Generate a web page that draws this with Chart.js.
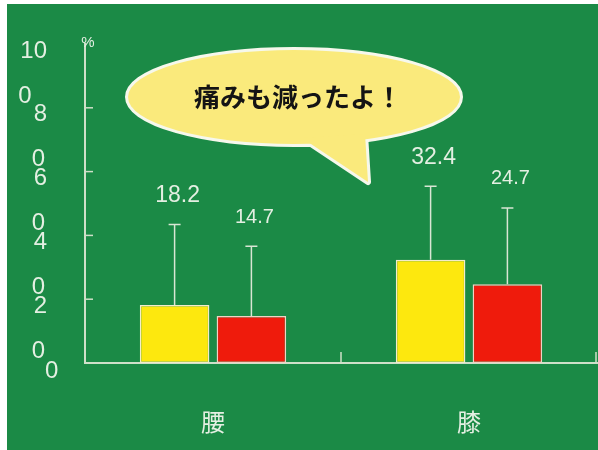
<!DOCTYPE html>
<html lang="ja">
<head>
<meta charset="utf-8">
<title>痛みも減ったよ！</title>
<script src="https://cdn.jsdelivr.net/npm/chart.js@4.4.1/dist/chart.umd.min.js"></script>
<style>
  html, body { margin: 0; padding: 0; background: #ffffff; }
  #wrap { width: 598px; height: 450px; }
</style>
</head>
<body>
<div id="wrap"><canvas id="painChart" width="598" height="450"></canvas></div>
<script>
// values
const categories = ["腰", "膝"];
const yellowValues = [18.2, 32.4];
const redValues = [14.7, 24.7];
const yellowSd = [25.2, 23.0];
const redSd = [21.9, 23.9];
const yTicks = [0, 20, 40, 60, 80, 100];
const unitLabel = "%";
const bubbleText = "痛みも減ったよ！";

const LIGHT = "#e4efe2";
const GREEN = "#1b8a46";

// green board with a thin white margin on the top and left
const boardPlugin = {
  id: "board",
  beforeDraw(chart) {
    const ctx = chart.ctx;
    ctx.save();
    ctx.fillStyle = "#ffffff";
    ctx.fillRect(0, 0, chart.width, chart.height);
    ctx.fillStyle = GREEN;
    ctx.fillRect(7, 4, chart.width - 7, chart.height - 4);
    ctx.restore();
  },
};

// error bars and value labels above them
const errorBarPlugin = {
  id: "errorBars",
  afterDatasetsDraw(chart) {
    const ctx = chart.ctx;
    const y = chart.scales.y;
    ctx.save();
    chart.data.datasets.forEach((ds, i) => {
      const meta = chart.getDatasetMeta(i);
      meta.data.forEach((bar, j) => {
        const top = y.getPixelForValue(ds.data[j] + ds.sd[j]);
        ctx.strokeStyle = "#d9e6d4";
        ctx.lineWidth = 1.5;
        ctx.beginPath();
        ctx.moveTo(bar.x, bar.y);
        ctx.lineTo(bar.x, top);
        ctx.moveTo(bar.x - 6, top);
        ctx.lineTo(bar.x + 6, top);
        ctx.stroke();

        ctx.fillStyle = LIGHT;
        ctx.font = ds.labelSize + "px 'Liberation Sans', Arial, sans-serif";
        ctx.textAlign = "center";
        ctx.textBaseline = "middle";
        ctx.fillText(ds.data[j].toFixed(1), bar.x + 3, top - 29);
      });
    });
    ctx.restore();
  },
};

// axis ticks and the (scanned, shifted) y labels
const axisPlugin = {
  id: "axisExtras",
  afterDraw(chart) {
    const ctx = chart.ctx;
    const y = chart.scales.y;
    const x = chart.scales.x;
    const area = chart.chartArea;
    ctx.save();
    ctx.strokeStyle = "#cfe0c9";
    ctx.lineWidth = 1.5;

    yTicks.forEach((v) => {
      if (v === 0 || v === 100) return;
      const py = y.getPixelForValue(v);
      ctx.beginPath();
      ctx.moveTo(area.left, py);
      ctx.lineTo(area.left + 8, py);
      ctx.stroke();
    });

    for (let j = 1; j <= categories.length; j++) {
      const px = j === categories.length
        ? area.right - 1
        : (x.getPixelForValue(j - 1) + x.getPixelForValue(j)) / 2;
      ctx.beginPath();
      ctx.moveTo(px, area.bottom);
      ctx.lineTo(px, area.bottom - 11);
      ctx.stroke();
    }

    ctx.fillStyle = LIGHT;
    ctx.textBaseline = "middle";
    ctx.font = "24px 'Liberation Sans', Arial, sans-serif";
    yTicks.forEach((v) => {
      const py = y.getPixelForValue(v);
      if (v === 0) {
        ctx.textAlign = "left";
        ctx.fillText("0", 45, py + 8);
        return;
      }
      const s = String(v);
      const lead = s.slice(0, -1);
      ctx.textAlign = "right";
      ctx.fillText(lead, 47, py + 7);
      const w = ctx.measureText(lead).width;
      ctx.textAlign = "left";
      ctx.fillText(s.slice(-1), 47 - w - 2, py + 52);
    });

    ctx.font = "15px 'Liberation Sans', Arial, sans-serif";
    ctx.textAlign = "center";
    ctx.fillText(unitLabel, area.left + 3, area.top - 1);
    ctx.restore();
  },
};

// speech bubble
const bubblePlugin = {
  id: "bubble",
  afterDraw(chart) {
    const ctx = chart.ctx;
    const cx = 294, cy = 97, rx = 166, ry = 47;
    const tail = () => {
      ctx.moveTo(302, 138);
      ctx.lineTo(368, 182);
      ctx.lineTo(365, 134);
      ctx.closePath();
    };
    ctx.save();
    ctx.lineJoin = "round";
    ctx.strokeStyle = "#f6f8ec";
    ctx.lineWidth = 6;
    ctx.beginPath();
    ctx.ellipse(cx, cy, rx, ry, 0, 0, Math.PI * 2);
    tail();
    ctx.stroke();
    ctx.fillStyle = "#faea7c";
    ctx.beginPath();
    ctx.ellipse(cx, cy, rx, ry, 0, 0, Math.PI * 2);
    ctx.fill();
    ctx.beginPath();
    tail();
    ctx.fill();

    ctx.fillStyle = "#141414";
    ctx.font = "bold 26px 'Noto Sans CJK JP', sans-serif";
    ctx.textAlign = "center";
    ctx.textBaseline = "middle";
    ctx.fillText(bubbleText, 298, 97);
    ctx.restore();
  },
};

new Chart(document.getElementById("painChart"), {
  type: "bar",
  data: {
    labels: categories,
    datasets: [
      {
        data: yellowValues,
        sd: yellowSd,
        labelSize: 23,
        backgroundColor: "#fde80e",
        borderColor: "#f3eccb",
        borderWidth: 1.5,
        borderSkipped: false,
      },
      {
        data: redValues,
        sd: redSd,
        labelSize: 20,
        backgroundColor: "#ef1b0c",
        borderColor: "#f2d2c4",
        borderWidth: 1.5,
        borderSkipped: false,
      },
    ],
  },
  options: {
    responsive: false,
    animation: false,
    barPercentage: 0.906,
    categoryPercentage: 0.6,
    layout: { padding: { left: 85, top: 44, right: 1, bottom: 0 } },
    scales: {
      x: {
        grid: { display: false, drawTicks: false },
        border: { display: true, color: "#cfe0c9", width: 2 },
        afterFit(scale) {
          scale.height = 87;
        },
        ticks: {
          padding: 44,
          color: LIGHT,
          font: { family: "'Noto Sans CJK JP', sans-serif", size: 24 },
        },
      },
      y: {
        min: 0,
        max: 100,
        grid: { display: false, drawTicks: false },
        border: { display: true, color: "#cfe0c9", width: 2 },
        ticks: { display: false, stepSize: 20 },
      },
    },
    plugins: {
      legend: { display: false },
      tooltip: { enabled: false },
    },
  },
  plugins: [boardPlugin, errorBarPlugin, axisPlugin, bubblePlugin],
});
</script>
</body>
</html>
